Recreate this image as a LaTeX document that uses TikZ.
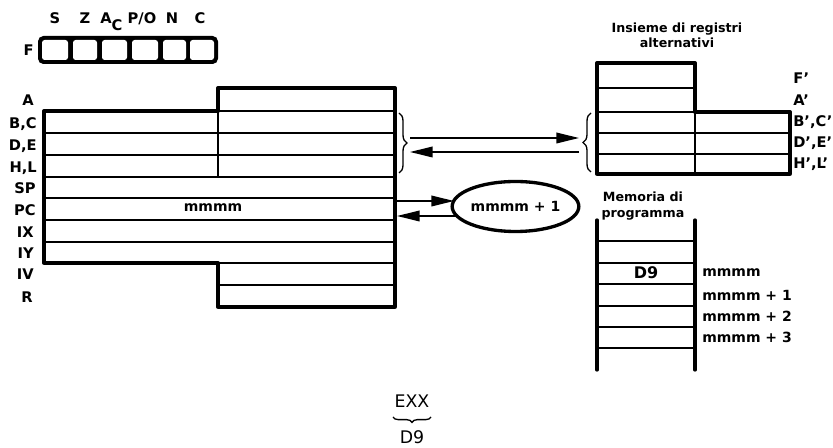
\documentclass[tikz,border=0pt]{standalone}
\usepackage{fontspec}
\setmainfont{DejaVu Sans}
\usetikzlibrary{arrows.meta,decorations.pathreplacing,shapes.geometric}
\begin{document}
\begin{tikzpicture}[x=0.75pt,y=-0.75pt,
  outerln/.style={line width=2.5pt, line join=round},
  innerln/.style={line width=1.6pt},
  lab/.style={font=\fontsize{11}{13}\selectfont\bfseries, inner sep=0pt},
  mlab/.style={font=\fontsize{10.5}{13}\selectfont\bfseries, inner sep=0pt},
  ttl/.style={font=\fontsize{9.5}{11.5}\selectfont\bfseries, inner sep=0pt, align=center},
  arr/.style={line width=1.1pt, -{Triangle[length=17pt,width=8pt]}},
  brc/.style={decorate, decoration={brace, amplitude=6pt}, line width=1pt},
  cell/.style={fill=white, rounded corners=2}]
\useasboundingbox (0,0) rectangle (833,448);

% ---- flag register F
\fill[rounded corners=4] (38,36) rectangle (218,64);
\fill[cell] (42,40) rectangle (68,60);
\fill[cell] (73,40) rectangle (97,60);
\fill[cell] (102,40) rectangle (127,60);
\fill[cell] (132,40) rectangle (158,60);
\fill[cell] (163,40) rectangle (186,60);
\fill[cell] (190,40) rectangle (214,60);
\node[lab, anchor=east] (lF) at (34,50) {F};
\node[lab] (fS) at (55,18.5) {S};
\node[lab] (fZ) at (85,18.5) {Z};
\node[lab] (fA) at (106,18.5) {A};
\node[lab] (fAc) at (117,25) {C};
\node[lab] (fPO) at (142,18.5) {P/O};
\node[lab] (fN) at (172,18.5) {N};
\node[lab] (fC) at (200,18.5) {C};

% ---- main register set
\draw[outerln] (218,88) -- (395,88) -- (395,307) -- (218,307) -- (218,263) -- (44,263) -- (44,111) -- (218,111) -- cycle;
\draw[innerln] (218,111) -- (395,111);
\foreach \yy in {133,155,177,198,220,242} \draw[innerln] (44,\yy) -- (395,\yy);
\draw[innerln] (218,263) -- (395,263);
\draw[innerln] (218,285) -- (395,285);
\draw[innerln] (218,111) -- (218,177);
\node[lab, anchor=east] (rA) at (34,100) {A};
\node[lab, anchor=east] (rBC) at (37,124) {B,C};
\node[lab, anchor=east] (rDE) at (37,146) {D,E};
\node[lab, anchor=east] (rHL) at (37,168) {H,L};
\node[lab, anchor=east] (rSP) at (36,188) {SP};
\node[lab, anchor=east] (rPC) at (36,210) {PC};
\node[lab, anchor=east] (rIX) at (34,232) {IX};
\node[lab, anchor=east] (rIY) at (34,253) {IY};
\node[lab, anchor=east] (rIV) at (34,274) {IV};
\node[lab, anchor=east] (rR) at (33,297) {R};
\node[mlab] (pcv) at (213,208) {mmmm};

% ---- alternative register set
\node[ttl] (alttitle) at (677,35) {Insieme di registri\\alternativi};
\draw[outerln] (597,63) -- (695,63) -- (695,112) -- (790,112) -- (790,174) -- (597,174) -- cycle;
\draw[innerln] (597,88) -- (695,88);
\draw[innerln] (597,112) -- (695,112);
\draw[innerln] (597,133) -- (790,133);
\draw[innerln] (597,154) -- (790,154);
\draw[innerln] (695,112) -- (695,174);
\node[lab, anchor=west] (aF) at (793,78) {F'};
\node[lab, anchor=west] (aA) at (793,100) {A'};
\node[lab, anchor=west] (aBC) at (793,122) {B',C'};
\node[lab, anchor=west] (aDE) at (793,143) {D',E'};
\node[lab, anchor=west] (aHL) at (793,164) {H',L'};

% ---- braces and exchange arrows
\draw[brc] (399,113) -- (399,173);
\draw[brc] (591,172) -- (591,113);
\coordinate (bl1) at (410,138);
\coordinate (br1) at (579,138);
\coordinate (bl2) at (410,152);
\coordinate (br2) at (579,152);
\draw[arr] (bl1) -- (br1);
\draw[arr] (br2) -- (bl2);

% ---- incremented PC
\node[ellipse, draw, line width=2.5pt, minimum width=91pt, minimum height=37.5pt, inner sep=0pt, font=\fontsize{10.5}{13}\selectfont\bfseries] (ell) at (515.5,206.5) {mmmm + 1};
\coordinate (pc1) at (396,201);
\coordinate (e1) at (454,201);
\coordinate (e2) at (457,216);
\coordinate (pc2) at (397,216);
\draw[arr] (pc1) -- (e1);
\draw[arr] (e2) -- (pc2);

% ---- program memory
\node[ttl] (memtitle) at (643,206) {Memoria di\\programma};
\draw[outerln, line cap=round] (597,220) -- (597,370);
\draw[outerln, line cap=round] (695,220) -- (695,370);
\foreach \yy in {241,263,284,306,327,348} \draw[innerln] (597,\yy) -- (695,\yy);
\node[inner sep=0pt, font=\fontsize{12}{14}\selectfont\bfseries] (d9) at (646,273) {D9};
\node[mlab, anchor=west] (m0) at (702,273) {mmmm};
\node[mlab, anchor=west] (m1) at (702,295) {mmmm + 1};
\node[mlab, anchor=west] (m2) at (702,316) {mmmm + 2};
\node[mlab, anchor=west] (m3) at (702,337) {mmmm + 3};

% ---- EXX opcode
\node[inner sep=0pt, font=\fontsize{13}{15}\selectfont] (exx) at (412,401) {EXX};
\draw[decorate, decoration={brace, amplitude=4pt}, line width=1pt] (431,417) -- (393,417);
\node[inner sep=0pt, font=\fontsize{13}{15}\selectfont] (exxd9) at (412,437) {D9};
\end{tikzpicture}
\end{document}
